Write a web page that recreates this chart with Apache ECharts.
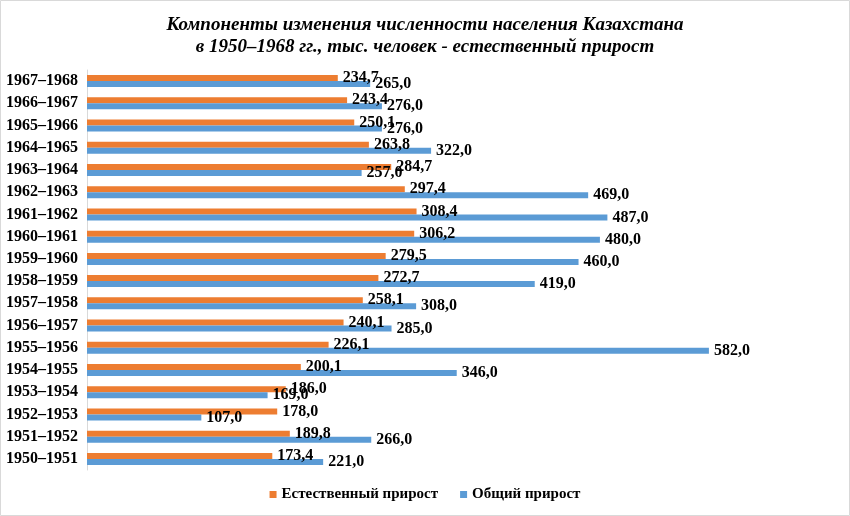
<!DOCTYPE html>
<html><head><meta charset="utf-8">
<script src="https://cdn.jsdelivr.net/npm/echarts@6/dist/echarts.min.js"></script>
<style>html,body{margin:0;padding:0;background:#fff}#c{width:850px;height:516px}</style>
</head><body><div id="c"></div>
<script>
const categories = ['1950–1951','1951–1952','1952–1953','1953–1954','1954–1955','1955–1956','1956–1957','1957–1958','1958–1959','1959–1960','1960–1961','1961–1962','1962–1963','1963–1964','1964–1965','1965–1966','1966–1967','1967–1968'];
const natural = [173.4,189.8,178.0,186.0,200.1,226.1,240.1,258.1,272.7,279.5,306.2,308.4,297.4,284.7,263.8,250.1,243.4,234.7];
const total = [221.0,266.0,107.0,169.0,346.0,582.0,285.0,308.0,419.0,460.0,480.0,487.0,469.0,257.0,322.0,276.0,276.0,265.0];
const seriesNames = ['Естественный прирост','Общий прирост'];

const font = '"Liberation Serif","Times New Roman",serif';
const fmt = p => p.value.toFixed(1).replace('.', ',');
const chart = echarts.init(document.getElementById('c'));
chart.setOption({
  animation: false,
  title: {
    text: 'Компоненты изменения численности населения Казахстана\nв 1950–1968 гг., тыс. человек - естественный прирост',
    left: 'center', top: 9,
    textStyle: {fontFamily: font, fontSize: 19, fontWeight: 'bold', fontStyle: 'italic', color: '#000', lineHeight: 22}
  },
  graphic: [{type: 'rect', shape: {x: 0.5, y: 0.5, width: 849, height: 515}, style: {fill: 'none', stroke: '#d9d9d9', lineWidth: 1}, silent: true}],
  legend: {
    data: seriesNames, bottom: 9, left: 'center', itemWidth: 7, itemHeight: 7, itemGap: 22,
    icon: 'rect',
    textStyle: {fontFamily: font, fontSize: 15, fontWeight: 'bold', color: '#000'}
  },
  grid: {left: 87, right: 15, top: 70, bottom: 46, containLabel: false},
  xAxis: {type: 'value', min: 0, max: 700, show: false, splitLine: {show: false}},
  yAxis: {
    type: 'category', data: categories,
    axisTick: {show: false},
    axisLine: {lineStyle: {color: '#d9d9d9'}},
    axisLabel: {fontFamily: font, fontSize: 16, fontWeight: 'bold', color: '#000', margin: 9}
  },
  series: [
    {name: seriesNames[0], type: 'bar', data: natural, barWidth: 6, barGap: '0%', itemStyle: {color: '#ED7D31'},
     label: {show: true, position: 'right', distance: 5, formatter: fmt, fontFamily: font, fontSize: 16, fontWeight: 'bold', color: '#000'}},
    {name: seriesNames[1], type: 'bar', data: total, barWidth: 6, barGap: '0%', itemStyle: {color: '#5B9BD5'},
     label: {show: true, position: 'right', distance: 5, formatter: fmt, fontFamily: font, fontSize: 16, fontWeight: 'bold', color: '#000'}}
  ]
});
</script></body></html>
